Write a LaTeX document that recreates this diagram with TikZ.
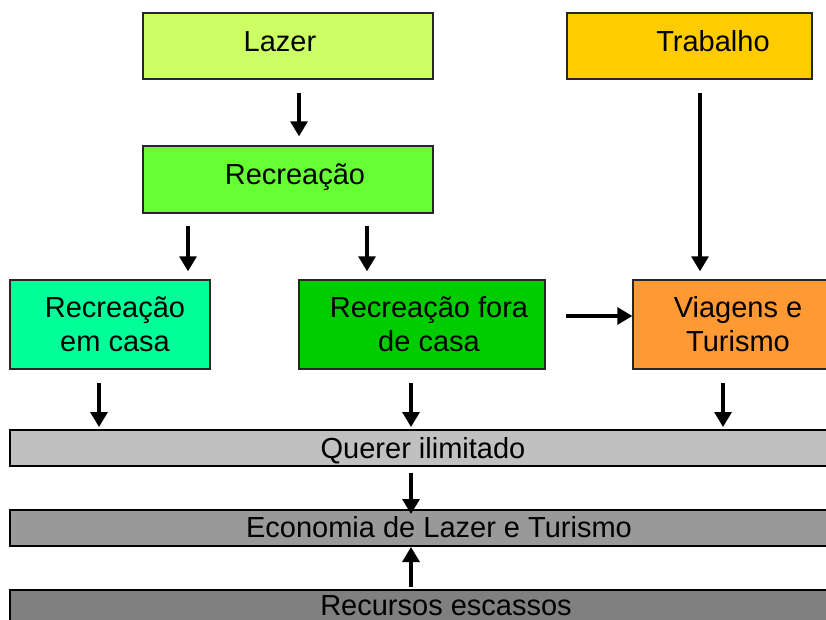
\documentclass[tikz,border=0pt]{standalone}
\usepackage{fontspec}
\setmainfont{Liberation Sans}
\usetikzlibrary{arrows.meta}
\definecolor{cLazer}{HTML}{CCFF66}
\definecolor{cTrab}{HTML}{FFCC00}
\definecolor{cRec}{HTML}{66FF33}
\definecolor{cCasa}{HTML}{00FF99}
\definecolor{cFora}{HTML}{00CC00}
\definecolor{cViag}{HTML}{FF9933}
\definecolor{cQuer}{HTML}{C0C0C0}
\definecolor{cEcon}{HTML}{999999}
\definecolor{cRecur}{HTML}{808080}
\tikzset{
  box/.style={draw=black!85, line width=1.4pt, inner sep=0pt},
  bar/.style={draw=black, line width=2pt, inner sep=0pt},
  lbl/.style={font={\fontsize{29}{34}\selectfont}, align=center, inner sep=0pt, anchor=base},
  arr/.style={line width=3.2pt, -{Triangle[length=15pt,width=17pt]}}
}
\begin{document}
\begin{tikzpicture}[x=1pt,y=-1pt]
\clip (0,0) rectangle (826,620);
\fill[white] (0,0) rectangle (826,620);
% boxes
\node[box, fill=cLazer, minimum width=290pt, minimum height=66pt] (lazer) at (288,46) {};
\node[box, fill=cTrab,  minimum width=245pt, minimum height=66pt] (trab) at (689.5,46) {};
\node[box, fill=cRec,   minimum width=290pt, minimum height=67pt] (rec) at (288,179.5) {};
\node[box, fill=cCasa,  minimum width=200pt, minimum height=89pt] (casa) at (110,324.5) {};
\node[box, fill=cFora,  minimum width=246pt, minimum height=89pt] (fora) at (422,324.5) {};
\node[box, fill=cViag,  minimum width=210pt, minimum height=89pt] (viag) at (738,324.5) {};
\node[bar, fill=cQuer,  minimum width=836pt, minimum height=36pt] (quer) at (428,448) {};
\node[bar, fill=cEcon,  minimum width=836pt, minimum height=36pt] (econ) at (428,528) {};
\node[bar, fill=cRecur, minimum width=836pt, minimum height=50pt] (recur) at (428,615) {};
% labels
\node[lbl] (tLazer) at (280,52) {Lazer};
\node[lbl] (tTrab) at (713,52) {Trabalho};
\node[lbl] (tRec) at (295,185) {Recreação};
\node[lbl] (tCasa) at (115,351) {Recreação\\em casa};
\node[lbl] (tFora) at (429,351) {Recreação fora\\de casa};
\node[lbl] (tViag) at (738,351) {Viagens e\\Turismo};
\node[lbl] (tQuer) at (423,458) {Querer ilimitado};
\node[lbl] (tEcon) at (439,537) {Economia de Lazer e Turismo};
\node[lbl] (tRecur) at (446,615) {Recursos escassos};
% arrows
\draw[arr, shorten <=13pt, shorten >=9pt] ([xshift=11pt]lazer.south) -- ([xshift=11pt]lazer.south |- rec.north);
\draw[arr, shorten <=12pt, shorten >=8pt] ([xshift=-100pt]rec.south) -- ([xshift=-100pt]rec.south |- casa.north);
\draw[arr, shorten <=12pt, shorten >=8pt] ([xshift=79pt]rec.south) -- ([xshift=79pt]rec.south |- fora.north);
\draw[arr, shorten <=13pt, shorten >=8pt] ([xshift=10.5pt]trab.south) -- ([xshift=10.5pt]trab.south |- viag.north);
\draw[arr, shorten <=20pt] ([yshift=8.5pt]fora.east) -- ([yshift=8.5pt]fora.east -| viag.west);
\draw[arr, shorten <=13pt, shorten >=2pt] ([xshift=-11pt]casa.south) -- ([xshift=-11pt]casa.south |- quer.north);
\draw[arr, shorten <=13pt, shorten >=2pt] ([xshift=-11pt]fora.south) -- ([xshift=-11pt]fora.south |- quer.north);
\draw[arr, shorten <=13pt, shorten >=2pt] ([xshift=-15pt]viag.south) -- ([xshift=-15pt]viag.south |- quer.north);
\draw[arr, shorten <=6pt, shorten >=-5pt] ([xshift=-17pt]quer.south) -- ([xshift=-17pt]quer.south |- econ.north);
\draw[arr, shorten <=2pt] ([xshift=-17pt]recur.north) -- ([xshift=-17pt]recur.north |- econ.south);
\end{tikzpicture}
\end{document}
